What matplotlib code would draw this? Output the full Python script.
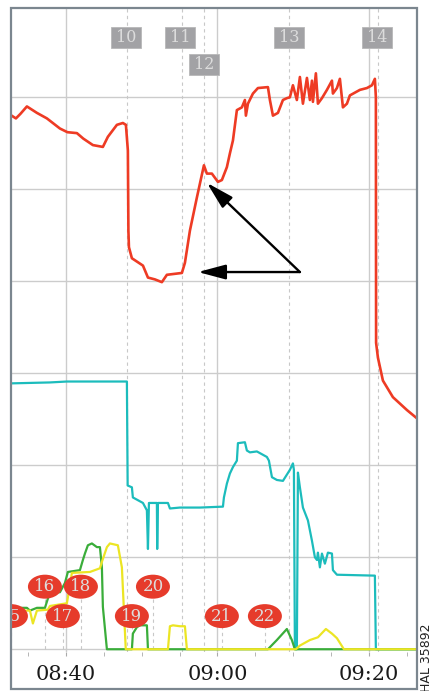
"""Process trend chart: temperature (red), flow (cyan) and two feeds (green/yellow)"""

import matplotlib.pyplot as plt
from matplotlib.patches import Rectangle, Ellipse

# time axis in minutes after 08:00, values in grid units
red_t = [32.83, 33.40, 34.00, 34.85, 36.17, 37.49, 39.21, 40.20, 41.45, 42.30, 43.56,
         44.88, 45.54, 46.73, 47.52, 47.92, 48.18, 48.25, 48.32, 48.71, 50.17, 50.83,
         51.75, 52.67, 53.33, 55.31, 55.71, 56.37, 57.29, 58.22, 58.61, 59.27, 60.07,
         60.59, 61.25, 61.65, 62.05, 62.57, 63.23, 63.63, 63.76, 64.03, 64.69, 65.35,
         66.67, 66.93, 67.33, 67.99, 68.65, 69.17, 69.57, 69.97, 70.49, 70.89, 71.29,
         71.82, 72.21, 72.48, 72.61, 73.00, 73.27, 73.80, 74.46, 75.12, 75.25, 75.78,
         76.17, 76.57, 77.10, 77.49, 78.81, 79.74, 80.40, 80.79, 80.92, 80.95, 81.19,
         81.85, 83.17, 85.02, 86.34]
red_v = [5.80, 5.77, 5.82, 5.90, 5.83, 5.77, 5.66, 5.62, 5.61, 5.55, 5.48,
         5.46, 5.57, 5.70, 5.72, 5.70, 5.42, 4.55, 4.37, 4.25, 4.17, 4.04,
         4.02, 3.99, 4.07, 4.09, 4.20, 4.55, 4.91, 5.26, 5.17, 5.17, 5.08,
         5.10, 5.24, 5.39, 5.53, 5.86, 5.89, 5.97, 5.80, 5.93, 6.04, 6.10,
         6.11, 5.97, 5.80, 5.83, 5.97, 5.99, 6.00, 6.13, 5.97, 6.22, 5.93,
         6.21, 5.97, 6.18, 5.95, 6.26, 5.93, 5.99, 6.08, 6.18, 6.04, 6.10,
         6.20, 5.89, 5.93, 6.02, 6.08, 6.10, 6.13, 6.20, 6.00, 3.33, 3.17,
         2.92, 2.74, 2.60, 2.51]

cyan_t = [32.83, 37.89, 40.13, 48.05, 48.15, 48.71, 48.84, 50.17, 50.69, 50.83, 50.96,
          51.22, 52.01, 52.05, 52.15, 53.47, 53.73, 55.05, 57.69, 60.73, 60.86, 61.25,
          61.65, 62.05, 62.57, 62.71, 63.63, 63.89, 64.29, 65.21, 66.53, 66.80, 67.20,
          67.85, 68.65, 69.57, 69.97, 70.10, 70.23, 70.49, 70.63, 70.89, 71.29, 71.95,
          72.48, 72.87, 73.14, 73.27, 73.53, 73.80, 74.19, 74.59, 75.12, 75.25, 75.78,
          80.79, 80.92, 86.34]
cyan_v = [2.89, 2.90, 2.91, 2.91, 1.78, 1.76, 1.65, 1.59, 1.51, 1.09, 1.59,
          1.59, 1.59, 1.09, 1.59, 1.59, 1.53, 1.54, 1.54, 1.55, 1.65, 1.80,
          1.91, 1.98, 2.05, 2.24, 2.25, 2.16, 2.14, 2.15, 2.09, 2.05, 1.87,
          1.84, 1.83, 1.95, 2.02, 1.95, 0.00, 0.00, 1.92, 1.76, 1.54, 1.40,
          1.18, 1.00, 0.97, 1.05, 0.89, 1.04, 0.93, 1.05, 1.04, 0.86, 0.81,
          0.80, 0.00, 0.00]

green_t = [32.87, 34.85, 35.25, 36.17, 37.23, 37.62, 37.89, 39.21, 39.87, 40.26, 41.85,
           42.24, 42.51, 42.90, 43.43, 44.09, 44.49, 44.75, 44.88, 45.41, 48.71, 48.84,
           49.37, 49.77, 50.69, 50.83, 66.67, 67.85, 69.17, 69.83, 70.23, 86.34]
green_v = [0.45, 0.45, 0.42, 0.45, 0.45, 0.55, 0.61, 0.62, 0.72, 0.84, 0.86,
           0.97, 1.04, 1.13, 1.15, 1.11, 1.11, 0.89, 0.46, 0.00, 0.00, 0.17,
           0.24, 0.26, 0.26, 0.00, 0.00, 0.10, 0.22, 0.10, 0.00, 0.00]

yellow_t = [32.74, 35.25, 35.64, 36.17, 37.62, 37.89, 40.13, 40.53, 40.79, 43.17, 44.49,
            44.75, 45.41, 45.81, 46.86, 47.39, 47.90, 53.47, 53.73, 54.13, 55.05, 55.71,
            55.97, 70.36, 70.89, 72.21, 73.27, 74.32, 75.12, 75.78, 76.70, 86.34]
yellow_v = [0.42, 0.42, 0.28, 0.42, 0.43, 0.47, 0.50, 0.70, 0.83, 0.84, 0.88,
            0.95, 1.11, 1.15, 1.13, 0.89, 0.00, 0.00, 0.25, 0.26, 0.25, 0.25,
            0.00, 0.00, 0.04, 0.10, 0.13, 0.22, 0.17, 0.12, 0.00, 0.00]

# grey event boxes (top) and red event ellipses (bottom)
event_labels = ['10', '11', '12', '13', '14']
event_t = [48.05, 55.31, 58.22, 69.44, 81.19]
event_label_t = [47.92, 55.05, 58.22, 69.44, 81.06]
event_label_v = [6.65, 6.65, 6.36, 6.65, 6.65]

step_labels = ['15', '16', '17', '18', '19', '20', '21', '22']
step_t = [32.74, 37.23, 39.60, 41.98, 48.71, 51.49, 60.59, 66.27]
step_v = [0.36, 0.68, 0.36, 0.68, 0.36, 0.68, 0.36, 0.36]

tick_pos = [40, 60, 80]
tick_labels = ['08:40', '09:00', '09:20']

W, H = 433, 691
px_t = 1 / 7.575   # minutes per pixel
px_v = 1 / 92.0    # units per pixel

fig = plt.figure(figsize=(W / 100, H / 100), dpi=100)
ax = fig.add_axes([11 / W, (H - 652) / H, 406 / W, 644 / H])
ax.set_xlim(32.75, 86.35)
ax.set_ylim(-0.03, 6.97)

for s in ax.spines.values():
    s.set_visible(False)

ax.set_yticks(range(7))
ax.set_xticks(tick_pos)
ax.set_xticklabels(tick_labels, family='DejaVu Serif', fontsize=15, color='#1a1a1a')
ax.set_xticks([35, 45, 50, 55, 65, 70, 75, 85], minor=True)
ax.tick_params(axis='y', length=0, labelleft=False)
ax.tick_params(axis='x', which='both', length=3, color='#aaaaaa', pad=6)
ax.grid(True, color='#cccccc', lw=1.0)
ax.set_axisbelow(True)

dash = (0, (3, 3))
for t in event_t:
    ax.axvline(t, color='#c8c8c8', lw=0.8, ls=dash, zorder=1)
for t, v in zip(step_t, step_v):
    ax.vlines(t, 0, v, color='#c8c8c8', lw=0.8, ls=dash, zorder=1)

ax.plot(cyan_t, cyan_v, color='#1cbcbc', lw=1.6, zorder=3)
ax.plot(green_t, green_v, color='#3aad3a', lw=1.6, zorder=3)
ax.plot(yellow_t, yellow_v, color='#ece524', lw=1.6, zorder=4)
ax.plot(red_t, red_v, color='#ee3b24', lw=1.9, zorder=5)

for lab, t, v in zip(event_labels, event_label_t, event_label_v):
    ax.add_patch(Rectangle((t - 15 * px_t, v - 10.5 * px_v), 30 * px_t, 21 * px_v,
                           fc='#a2a2a5', ec='#b8b8b8', lw=0.6, zorder=6))
    ax.text(t, v, lab, ha='center', va='center', family='DejaVu Serif', fontsize=11.5,
            color='#dcdcdc', zorder=7)

for lab, t, v in zip(step_labels, step_t, step_v):
    ax.add_patch(Ellipse((t, v), 34 * px_t, 24 * px_v, fc='#e63b2b', ec='none', zorder=6))
    ax.text(t, v, lab, ha='center', va='center', family='DejaVu Serif', fontsize=12,
            color='#dddddd', zorder=7, clip_on=True)

# arrows pointing at the red curve
arrow = dict(arrowstyle='-|>,head_length=1.2,head_width=0.32', color='black', lw=1.7,
             mutation_scale=14, shrinkA=0, shrinkB=0)
ax.annotate('', xy=(58.61, 5.07), xytext=(70.89, 4.10), arrowprops=arrow, zorder=8)
ax.annotate('', xy=(57.43, 4.10), xytext=(70.89, 4.10), arrowprops=arrow, zorder=8)

# outer frame round plot and time labels
fig.patches.append(Rectangle((11 / W, 2 / H), 406 / W, 681 / H, transform=fig.transFigure,
                             fill=False, ec='#7b868f', lw=1.6))
fig.text(427 / W, 1 - 623 / H, 'HAL 35892', rotation=90, ha='center', va='top',
         fontsize=9, color='#222222')

fig.savefig('out.png', dpi=100)
